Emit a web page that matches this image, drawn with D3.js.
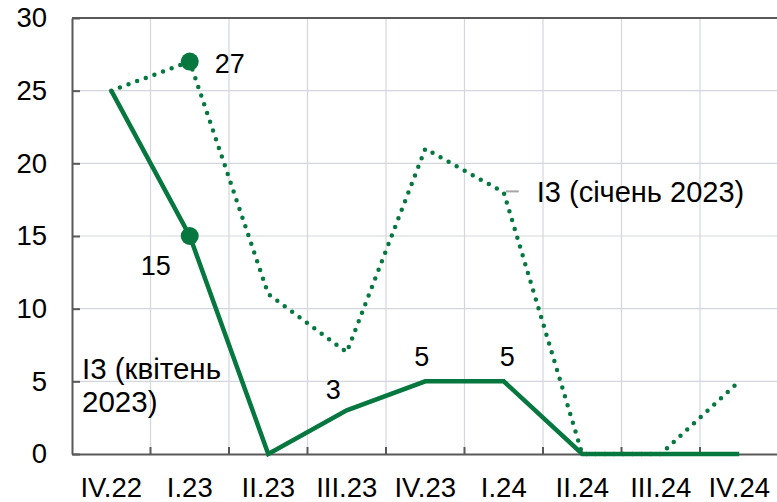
<!DOCTYPE html>
<html>
<head>
<meta charset="utf-8">
<script src="https://cdn.jsdelivr.net/npm/d3@7"></script>
<style>
  html, body { margin: 0; padding: 0; background: #fff; }
  svg { display: block; font-family: "Liberation Sans", Arial, sans-serif; }
</style>
</head>
<body>
<svg id="chart" width="777" height="502"></svg>
<script>
const categories = ["IV.22", "I.23", "II.23", "III.23", "IV.23", "I.24", "II.24", "III.24", "IV.24"];
const solidValues = [25, 15, 0, 3, 5, 5, 0, 0, 0];      // ІЗ (квітень 2023)
const dottedValues = [25, 27, 11, 7, 21, 18, 0, 0, 5];  // ІЗ (січень 2023)
const yTicks = [0, 5, 10, 15, 20, 25, 30];

const green = "#06773f";
const axisColor = "#595959";
const gridColor = "#d3d7dc";

const svg = d3.select("#chart");
const m = { left: 72, top: 18, bottom: 454, right: 778.5 };

const x = d3.scaleBand().domain(categories).range([m.left, m.right]).padding(0);
const y = d3.scaleLinear().domain([0, 30]).range([m.bottom, m.top]);
const cx = c => x(c) + x.bandwidth() / 2;

// horizontal gridlines
svg.append("g").selectAll("line").data(yTicks.filter(t => t > 0 && t < 30)).join("line")
  .attr("x1", m.left).attr("x2", m.right)
  .attr("y1", d => y(d)).attr("y2", d => y(d))
  .attr("stroke", gridColor).attr("stroke-width", 1.2);

// vertical gridlines at category boundaries
const bounds = categories.slice(1).map(c => x(c));
svg.append("g").selectAll("line").data(bounds).join("line")
  .attr("x1", d => d).attr("x2", d => d)
  .attr("y1", m.top).attr("y2", m.bottom)
  .attr("stroke", gridColor).attr("stroke-width", 1.2);

// top border
svg.append("line").attr("x1", m.left).attr("x2", m.right)
  .attr("y1", m.top).attr("y2", m.top)
  .attr("stroke", axisColor).attr("stroke-width", 2);

// y axis
const yAxis = d3.axisLeft(y).tickValues(yTicks).tickSizeInner(-8).tickSizeOuter(0).tickPadding(25);
const yg = svg.append("g").attr("transform", `translate(${m.left},0)`).call(yAxis);
yg.select(".domain").attr("stroke", axisColor).attr("stroke-width", 2);
yg.selectAll(".tick line").attr("stroke", axisColor).attr("stroke-width", 2);
yg.selectAll(".tick text").attr("font-size", 27.5).attr("fill", "#000")
  .attr("font-family", "Liberation Sans, Arial, sans-serif");

// x axis
const xAxis = d3.axisBottom(x).tickSize(0).tickPadding(23);
const xg = svg.append("g").attr("transform", `translate(0,${m.bottom})`).call(xAxis);
xg.select(".domain").attr("stroke", axisColor).attr("stroke-width", 2);
xg.selectAll(".tick text").attr("font-size", 27.5).attr("fill", "#000")
  .attr("font-family", "Liberation Sans, Arial, sans-serif");
xg.append("g").selectAll("line").data(bounds).join("line")
  .attr("x1", d => d).attr("x2", d => d).attr("y1", 0).attr("y2", -7)
  .attr("stroke", axisColor).attr("stroke-width", 2);

const line = d3.line().x((d, i) => cx(categories[i])).y(d => y(d));

// dotted series
svg.append("path").datum(dottedValues)
  .attr("d", line).attr("fill", "none")
  .attr("stroke", green).attr("stroke-width", 4.5)
  .attr("stroke-linecap", "round").attr("stroke-dasharray", "0 9.2");

// solid series
svg.append("path").datum(solidValues)
  .attr("d", line).attr("fill", "none")
  .attr("stroke", green).attr("stroke-width", 4.5)
  .attr("stroke-linejoin", "miter");

// markers at I.23
svg.append("circle").attr("cx", cx("I.23")).attr("cy", y(dottedValues[1])).attr("r", 9).attr("fill", green);
svg.append("circle").attr("cx", cx("I.23")).attr("cy", y(solidValues[1])).attr("r", 9).attr("fill", green);

// value labels
const lab = (t, xx, yy, anchor) => svg.append("text").attr("x", xx).attr("y", yy)
  .attr("font-size", 27).attr("fill", "#000").attr("text-anchor", anchor || "start").text(t);

lab(dottedValues[1], cx("I.23") + 25, y(dottedValues[1]) + 11);
lab(solidValues[1], cx("I.23") - 49, y(solidValues[1]) + 39);
lab(solidValues[3], cx("III.23") - 21, y(solidValues[3]) - 11);
lab(solidValues[4], cx("IV.23") - 11, y(solidValues[4]) - 15);
lab(solidValues[5], cx("I.24") - 4, y(solidValues[5]) - 15);

// series labels
svg.append("line").attr("x1", cx("I.24") + 2).attr("x2", cx("I.24") + 15)
  .attr("y1", y(dottedValues[5]) - 1).attr("y2", y(dottedValues[5]) - 1)
  .attr("stroke", "#a6a6a6").attr("stroke-width", 2);
lab("І3 (січень 2023)", cx("I.24") + 33, y(dottedValues[5]) + 10).attr("font-size", 29);

const t2 = svg.append("text").attr("font-size", 29.5).attr("fill", "#000");
t2.append("tspan").attr("x", 82).attr("y", y(5) - 2).text("І3 (квітень");
t2.append("tspan").attr("x", 82).attr("y", y(5) + 31).text("2023)");
</script>
</body>
</html>
